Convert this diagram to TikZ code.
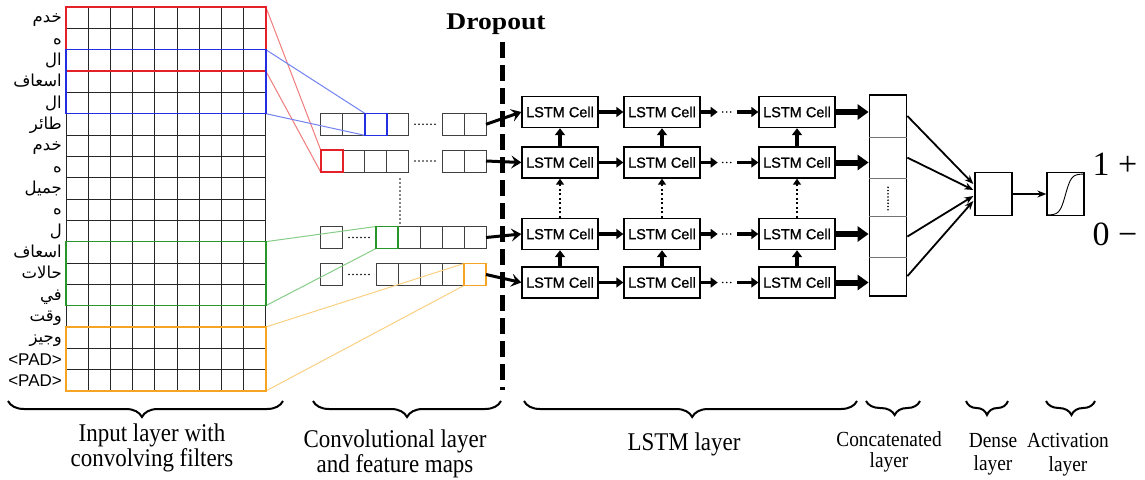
\documentclass[tikz,border=0pt]{standalone}
\usepackage{fontspec}
\setmainfont{Liberation Serif}
\newfontfamily\arabicfont[Script=Arabic]{DejaVu Sans}
\newfontfamily\sansf{Liberation Sans}
\newfontfamily\lstmfont[FakeBold=1.2]{Liberation Sans}
\newfontfamily\capfont[FakeStretch=0.9]{Liberation Serif}
\TeXXeTstate=1
\usetikzlibrary{arrows.meta,decorations.pathreplacing,calc}
\definecolor{fred}{RGB}{228,32,40}
\definecolor{lred}{RGB}{240,125,125}
\definecolor{fblue}{RGB}{35,45,225}
\definecolor{lblue}{RGB}{115,130,240}
\definecolor{fgreen}{RGB}{40,150,40}
\definecolor{lgreen}{RGB}{135,205,135}
\definecolor{forange}{RGB}{245,165,35}
\definecolor{lorange}{RGB}{250,208,130}
\begin{document}
\begin{tikzpicture}[x=1pt,y=-1pt,
  gridl/.style={line width=0.9pt,black!85},
  filt/.style={line width=1.6pt},
  link/.style={line width=1pt},
  cbox/.style={draw=black!75,line width=1pt},
  dots/.style={line width=1.8pt,dash pattern=on 0pt off 4pt,line cap=round},
  wlabel/.style={anchor=base east,inner sep=0pt,font=\arabicfont\fontsize{16.5}{16.5}\selectfont},
  padlabel/.style={anchor=base east,inner sep=0pt,font=\sansf\fontsize{17}{17}\selectfont},
  lstm/.style={draw,line width=1.4pt,minimum width=76pt,minimum height=31pt,inner sep=0pt,font=\lstmfont\fontsize{14.5}{14.5}\selectfont},
  inarrow/.style={line width=3pt,-{Stealth[length=10pt,width=13pt,inset=4pt]}},
  harrow/.style={line width=3.5pt,-{Triangle[length=7pt,width=10pt]}},
  varrow/.style={line width=3.5pt,-{Triangle[length=7pt,width=10pt]}},
  vdarrow/.style={line width=2.5pt,dash pattern=on 2pt off 2.5pt,-{Triangle[length=6pt,width=8pt]}},
  hdots/.style={line width=1.8pt,dash pattern=on 0pt off 4pt,line cap=round},
  fatarrow/.style={line width=6pt,-{Triangle[length=11pt,width=15pt]}},
  thinarrow/.style={line width=1.8pt,-{Stealth[length=9pt,width=7pt]}},
  box/.style={draw,line width=1.3pt,inner sep=0pt},
  divl/.style={line width=0.7pt,black!55},
  brc/.style={decorate,line width=2pt},
  captxt/.style={anchor=base,align=center,inner sep=0pt,font=\capfont\fontsize{25.5}{21.5}\selectfont},
  capsmall/.style={anchor=base,align=center,inner sep=0pt,font=\capfont\fontsize{21.5}{21.5}\selectfont},
  outtxt/.style={anchor=base,inner sep=0pt,font=\fontsize{34}{34}\selectfont}
]
\useasboundingbox[fill=white] (0,0) rectangle (1145,479);

% ---------- input grid ----------
\foreach \i in {0,...,9} \draw[gridl] ({66+22.2*\i},7) -- ({66+22.2*\i},391);
\foreach \j in {0,...,18} \draw[gridl] (66,{7+21.333*\j}) -- (265.8,{7+21.333*\j});

\foreach \w [count=\j from 0] in {خدم,ه,ال,اسعاف,ال,طائر,خدم,ه,جميل,ه,ل,اسعاف,حالات,في,وقت,وجيز}
  \node[wlabel] (w\j) at (62,{17.67+21.333*\j+5}) {\beginR\w\endR};
\node[padlabel] (w16) at (62,{17.67+21.333*16+6}) {<PAD>};
\node[padlabel] (w17) at (62,{17.67+21.333*17+6}) {<PAD>};

% filter corners
\coordinate (rA) at (66,7);      \coordinate (rB) at (265.8,71);
\coordinate (bA) at (66,49.67);  \coordinate (bB) at (265.8,113.67);
\coordinate (gA) at (66,241.67); \coordinate (gB) at (265.8,305.67);
\coordinate (oA) at (66,327);    \coordinate (oB) at (265.8,391);

% ---------- conv feature maps ----------
\foreach \y in {113.3,150} {
  \foreach \k in {0,...,3} \draw[cbox] ({320.7+22*\k},\y) rectangle +(22,22);
  \foreach \x in {442,464} \draw[cbox] (\x,\y) rectangle +(22,22);
  \draw[dots] (415,{\y+11}) -- (437,{\y+11});
}
\foreach \y in {226.5,263.5} {
  \draw[cbox] (320.7,\y) rectangle +(22,22);
  \foreach \k in {0,...,4} \draw[cbox] ({376+22*\k},\y) rectangle +(22,22);
  \draw[dots] (349,{\y+11}) -- (371,{\y+11});
}
\coordinate (cbA) at (364.7,113.3); \coordinate (cbB) at (386.7,135.3);
\coordinate (crA) at (320.7,150);   \coordinate (crB) at (342.7,172);
\coordinate (cgA) at (376,226.5);   \coordinate (cgB) at (398,248.5);
\coordinate (coA) at (464,263.5);   \coordinate (coB) at (486,285.5);

\coordinate (vdt) at (400,179); \coordinate (vdb) at (400,223);
\draw[dots] (vdt) -- (vdb);

% links
\draw[link,lred] (rA -| rB) -- (crA);
\draw[link,lred] (rB) -- (crA |- crB);
\draw[link,lblue] (bA -| bB) -- (cbA);
\draw[link,lblue] (bB) -- (cbA |- cbB);
\draw[link,lgreen] (gA -| gB) -- (cgA);
\draw[link,lgreen] (gB) -- (cgA |- cgB);
\draw[link,lorange] (oA -| oB) -- (coA);
\draw[link,lorange] (oB) -- (coA |- coB);

% filter boxes
\draw[filt,fred] (rA) rectangle (rB);
\draw[filt,fblue] (bA) rectangle (bB);
\draw[filt,fgreen] (gA) rectangle (gB);
\draw[filt,forange] (oA) rectangle (oB);
\draw[filt,fblue] (cbA) rectangle (cbB);
\draw[filt,fred] (crA) rectangle (crB);
\draw[filt,fgreen] (cgA) rectangle (cgB);
\draw[filt,forange] (coA) rectangle (coB);

% ---------- dropout ----------
\node[anchor=base,inner sep=0pt,font=\bfseries\fontsize{24}{24}\selectfont] (drop) at (496,29) {\scalebox{1.15}[1]{Dropout}};
\coordinate (dt) at (502,42); \coordinate (db) at (502,390);
\draw[line width=5pt,dash pattern=on 16pt off 7pt] (dt) -- (db);

% ---------- LSTM ----------
\foreach \r/\yy in {1/112,2/162.5,3/234,4/282.5}
  \foreach \c/\xx in {1/560,2/662,3/797}
    \node[lstm] (l\r\c) at (\xx,\yy) {LSTM Cell};

\coordinate (cv1) at (486,124.3);
\coordinate (cv2) at (486,161);
\coordinate (cv3) at (486,237.5);
\coordinate (cv4) at (486,274.5);
\foreach \r in {1,...,4} \draw[inarrow] (cv\r) -- (l\r1.west);

\foreach \r in {1,...,4} {
  \draw[harrow] (l\r1.east) -- (l\r2.west);
  \coordinate (ha\r) at ($(l\r2.east)+(17,0)$);
  \coordinate (hb\r) at ($(l\r3.west)+(-21,0)$);
  \draw[harrow] (l\r2.east) -- (ha\r);
  \draw[hdots] ($(ha\r)+(5,0)$) -- ($(hb\r)+(-4,0)$);
  \draw[harrow] (hb\r) -- (l\r3.west);
}
\foreach \c in {1,2,3} {
  \draw[varrow] (l2\c.north) -- (l1\c.south);
  \draw[vdarrow] (l3\c.north) -- (l2\c.south);
  \draw[varrow] (l4\c.north) -- (l3\c.south);
}

% ---------- concatenated ----------
\node[box,minimum width=37.5pt,minimum height=201pt] (cc) at (888,195.5) {};
\foreach \d in {43.3,84,121.7,162.7}
  \draw[divl] ($(cc.north west)+(0.7,\d)$) -- ($(cc.north east)+(-0.7,\d)$);
\draw[line width=1.8pt,dash pattern=on 0pt off 3.2pt,line cap=round] ($(cc.north)+(0,93)$) -- ($(cc.north)+(0,116)$);
\foreach \r in {1,...,4} \draw[fatarrow] (l\r3.east) -- (l\r3.east -| cc.west);

% ---------- dense & activation ----------
\node[box,minimum width=37pt,minimum height=43.5pt] (dn) at (993.5,194) {};
\node[box,minimum width=37pt,minimum height=43.5pt] (ac) at (1065.5,194) {};
\coordinate (k1) at ($(cc.north east)+(0,21.7)$);
\coordinate (k2) at ($(cc.north east)+(0,63.3)$);
\coordinate (k3) at ($(cc.north east)+(0,142.2)$);
\coordinate (k4) at ($(cc.north east)+(0,181.8)$);
\coordinate (d1) at ($(dn.west)+(-1,-10)$);
\coordinate (d2) at ($(dn.west)+(-1,-4)$);
\coordinate (d3) at ($(dn.west)+(-1,2)$);
\coordinate (d4) at ($(dn.west)+(-1,7)$);
\foreach \r in {1,...,4} \draw[thinarrow] (k\r) -- (d\r);
\draw[thinarrow] (dn.east) -- (ac.west);
\draw[line width=0.9pt,domain=-6:6,samples=60,variable=\t] plot ({1065.5+2.9*\t},{215-41/(1+exp(-\t))});

\node[outtxt] (o1) at (1115,175) {1 +};
\node[outtxt] (o0) at (1115,245) {0 −};

% ---------- braces ----------
\coordinate (b1l) at (8,401);    \coordinate (b1r) at (283,401);
\coordinate (b2l) at (313,401);  \coordinate (b2r) at (501,401);
\coordinate (b3l) at (524,401);  \coordinate (b3r) at (857,401);
\coordinate (b4l) at (866,401);  \coordinate (b4r) at (920,401);
\coordinate (b5l) at (966,401);  \coordinate (b5r) at (1008,401);
\coordinate (b6l) at (1046,401); \coordinate (b6r) at (1095,401);
\draw[brc,decoration={brace,mirror,amplitude=16pt,aspect=0.487}] (b1l) -- (b1r);
\draw[brc,decoration={brace,mirror,amplitude=16pt,aspect=0.5}] (b2l) -- (b2r);
\draw[brc,decoration={brace,mirror,amplitude=16pt,aspect=0.505}] (b3l) -- (b3r);
\draw[brc,decoration={brace,mirror,amplitude=14pt,aspect=0.53}] (b4l) -- (b4r);
\draw[brc,decoration={brace,mirror,amplitude=14pt,aspect=0.5}] (b5l) -- (b5r);
\draw[brc,decoration={brace,mirror,amplitude=14pt,aspect=0.52}] (b6l) -- (b6r);

% ---------- captions (base = last line) ----------
\node[captxt] (t1) at (152,466) {Input layer with\\convolving filters};
\node[captxt] (t2) at (395,472) {Convolutional layer\\and feature maps};
\node[captxt] (t3) at (684,450) {LSTM layer};
\node[capsmall] (t4) at (889,467) {Concatenated\\[-1pt]layer};
\node[capsmall] (t5) at (993,470) {Dense\\[1pt]layer};
\node[capsmall] (t6) at (1068,471) {Activation\\[2pt]layer};
\end{tikzpicture}
\end{document}
